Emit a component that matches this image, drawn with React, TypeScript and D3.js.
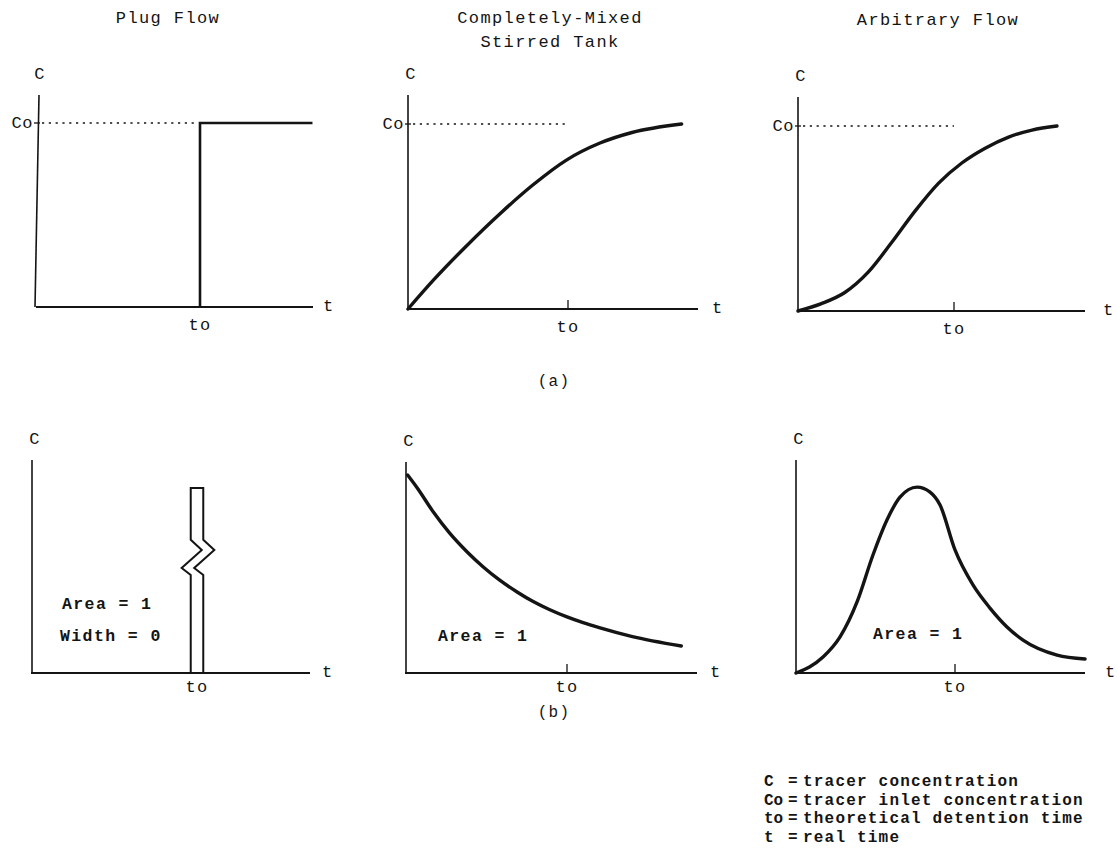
import React from 'react';
import * as d3 from 'd3';

// values are in units of t/to (x) and C/Co (y)
const plugStepT = [1, 1, 1.69];
const plugStepC = [0, 1, 1];

const cmstStepT = [0, 0.16, 0.37, 0.575, 0.78, 0.99, 1.2, 1.4, 1.71];
const cmstStepC = [0, 0.157, 0.345, 0.515, 0.67, 0.805, 0.897, 0.954, 1.0];

const arbStepT = [0, 0.15, 0.3, 0.45, 0.6, 0.75, 0.9, 1.05, 1.2, 1.35, 1.5, 1.66];
const arbStepC = [0, 0.04, 0.1, 0.21, 0.37, 0.54, 0.69, 0.8, 0.88, 0.94, 0.978, 1.0];

const pulseHalfWidth = 0.038;
const pulseTop = 1.0;
const pulseBreakDt = [0, -0.055, 0.067, 0];
const pulseBreakC = [0.53, 0.568, 0.665, 0.72];

const cmstPulseT = [0.01, 0.07, 0.17, 0.27, 0.38, 0.48, 0.58, 0.69, 0.79, 0.89, 1.0, 1.1, 1.2, 1.4, 1.71];
const cmstPulseC = [1.07, 1.0, 0.87, 0.757, 0.654, 0.573, 0.503, 0.438, 0.386, 0.343, 0.303, 0.272, 0.245, 0.198, 0.146];

const arbPulseT = [0, 0.17, 0.277, 0.384, 0.484, 0.572, 0.654, 0.761, 0.843, 0.906, 1.0, 1.113, 1.22, 1.327, 1.428, 1.642, 1.818];
const arbPulseC = [0, 0.086, 0.195, 0.384, 0.638, 0.827, 0.951, 1.005, 0.978, 0.908, 0.665, 0.476, 0.351, 0.249, 0.178, 0.097, 0.076];

const titles = [['Plug Flow'], ['Completely-Mixed', 'Stirred Tank'], ['Arbitrary Flow']];
const rowLabels = ['(a)', '(b)'];
const areaLabels = [['Area = 1', 'Width = 0'], ['Area = 1'], ['Area = 1']];
const legendSymbols = ['C', 'Co', 'to', 't'];
const legendTexts = ['tracer concentration', 'tracer inlet concentration', 'theoretical detention time', 'real time'];

const FONT = '"Liberation Mono", "DejaVu Sans Mono", monospace';
const INK = '#141414';

type Geo = { x0: number; toX: number; xEnd: number; base: number; unit: number; top: number; tDx: number };

const geoTop: Geo[] = [
  { x0: 37, toX: 200, xEnd: 313, base: 307, unit: 184, top: 95, tDx: 10 },
  { x0: 408, toX: 568, xEnd: 698, base: 309, unit: 185, top: 95, tDx: 14 },
  { x0: 798, toX: 954, xEnd: 1085, base: 311, unit: 185, top: 97, tDx: 18 },
];
const geoBottom: Geo[] = [
  { x0: 32, toX: 197, xEnd: 310, base: 673, unit: 185, top: 460, tDx: 12 },
  { x0: 406, toX: 567, xEnd: 697, base: 673, unit: 185, top: 462, tDx: 13 },
  { x0: 796, toX: 955, xEnd: 1085, base: 673, unit: 185, top: 460, tDx: 20 },
];

const zip = (ts: number[], cs: number[]) => ts.map((t, i) => [t, cs[i]] as [number, number]);

const Panel: React.FC<{ g: Geo; row: number; col: number }> = ({ g, row, col }) => {
  const x = d3.scaleLinear().domain([0, 1]).range([g.x0, g.toX]);
  const y = d3.scaleLinear().domain([0, 1]).range([g.base, g.base - g.unit]);
  const smooth = d3.line<[number, number]>().x(d => x(d[0])).y(d => y(d[1])).curve(d3.curveMonotoneX);
  const straight = d3.line<[number, number]>().x(d => x(d[0])).y(d => y(d[1]));

  let mark: React.ReactNode = null;
  if (row === 0 && col === 0) {
    mark = <path d={straight(zip(plugStepT, plugStepC)) || ''} fill="none" stroke={INK} strokeWidth={2.6} />;
  } else if (row === 0) {
    const pts = col === 1 ? zip(cmstStepT, cmstStepC) : zip(arbStepT, arbStepC);
    mark = <path d={smooth(pts) || ''} fill="none" stroke={INK} strokeWidth={3.4} strokeLinecap="round" />;
  } else if (col === 0) {
    const side = (sgn: number) => {
      const cx = 1 + sgn * pulseHalfWidth;
      const up: [number, number][] = [[cx, 0], ...pulseBreakDt.map((dt, i) => [cx + dt, pulseBreakC[i]] as [number, number]), [cx, pulseTop]];
      return up;
    };
    const pts = [...side(-1), ...side(1).reverse()];
    mark = <path d={straight(pts) || ''} fill="none" stroke={INK} strokeWidth={2} strokeLinejoin="miter" />;
  } else {
    const pts = col === 1 ? zip(cmstPulseT, cmstPulseC) : zip(arbPulseT, arbPulseC);
    mark = <path d={smooth(pts) || ''} fill="none" stroke={INK} strokeWidth={3.4} strokeLinecap="round" />;
  }

  const toDy = row === 0 ? 23 : 19;
  return (
    <g fontSize={17}>
      <line x1={col === 0 && row === 0 ? g.x0 - 2 : g.x0} y1={g.base} x2={col === 0 && row === 0 ? g.x0 + 2 : g.x0} y2={g.top}
        stroke={INK} strokeWidth={1.6} />
      <line x1={g.x0 - 1} y1={g.base} x2={g.xEnd} y2={g.base} stroke={INK} strokeWidth={1.8} />
      {col > 0 && <line x1={x(1)} y1={g.base} x2={x(1)} y2={g.base - 9} stroke={INK} strokeWidth={1.3} />}
      {row === 0 && (
        <g>
          <line x1={g.x0 - 3} y1={y(1)} x2={g.x0 + 3} y2={y(1)} stroke={INK} strokeWidth={1.3} />
          <line x1={g.x0 + 5} y1={y(1)} x2={col === 0 ? x(1) - 4 : x(1)} y2={y(1)} stroke={INK}
            strokeWidth={1.6} strokeDasharray="2.2,4.6" />
          <text x={g.x0 - 4} y={y(1) + 5} textAnchor="end" letterSpacing={0.6}>Co</text>
        </g>
      )}
      <text x={g.x0 + 3} y={g.top - 16} textAnchor="middle">C</text>
      <text x={g.xEnd + g.tDx} y={g.base + 4}>t</text>
      <text x={x(1)} y={g.base + toDy} textAnchor="middle">to</text>
      {mark}
    </g>
  );
};

const areaPos = [
  [[62, 609], [60, 641]],
  [[438, 641]],
  [[873, 639]],
];

const App: React.FC = () => {
  return (
    <div style={{ position: 'absolute', left: 0, top: 0, background: '#fff' }}>
      <svg width={1117} height={863} style={{ display: 'block', fontFamily: FONT, fontSize: 16, letterSpacing: 1.2 }} fill={INK}>
        <rect x={0} y={0} width={1117} height={863} fill="#fff" />
        {/* titles */}
        {titles.map((lines, i) => (
          <text key={i} x={[168, 550, 938][i]} y={i === 2 ? 25 : 23} textAnchor="middle" fontSize={17} letterSpacing={1.4}>
            {lines.map((l, j) => (
              <tspan key={j} x={[168, 550, 938][i]} dy={j === 0 ? 0 : 24}>{l}</tspan>
            ))}
          </text>
        ))}
        {geoTop.map((g, i) => <Panel key={'a' + i} g={g} row={0} col={i} />)}
        {geoBottom.map((g, i) => <Panel key={'b' + i} g={g} row={1} col={i} />)}
        {rowLabels.map((l, i) => (
          <text key={l} x={554} y={[386, 717][i]} textAnchor="middle">{l}</text>
        ))}
        {areaLabels.map((ls, i) => ls.map((l, j) => (
          <text key={i + '-' + j} x={areaPos[i][j][0]} y={areaPos[i][j][1]} fontWeight={600} fontSize={16.5} letterSpacing={1.4}>{l}</text>
        )))}
        {/* legend */}
        {legendSymbols.map((s, i) => (
          <g key={s} fontWeight={600}>
            <text x={764} y={786 + i * 18.5} letterSpacing={0}>{s}</text>
            <text x={788} y={786 + i * 18.5} letterSpacing={0}>=</text>
            <text x={803} y={786 + i * 18.5}>{legendTexts[i]}</text>
          </g>
        ))}
      </svg>
    </div>
  );
};

export default App;
